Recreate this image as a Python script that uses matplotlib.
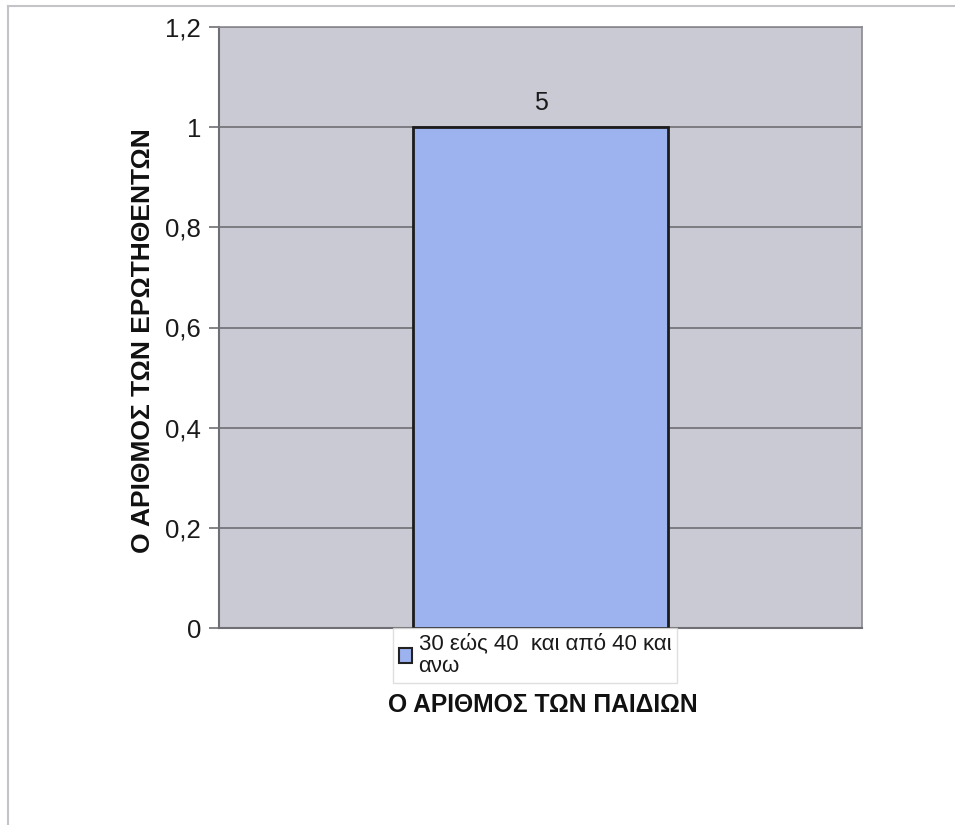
import matplotlib
matplotlib.use("Agg")
import matplotlib.pyplot as plt
from matplotlib.lines import Line2D
from matplotlib.patches import Rectangle

categories = [""]
values = [1]
bar_labels = ["5"]
series_name = "30 εώς 40  και από 40 και\nανω"
y_ticks = [0, 0.2, 0.4, 0.6, 0.8, 1.0, 1.2]
y_tick_labels = ["0", "0,2", "0,4", "0,6", "0,8", "1", "1,2"]
y_title = "Ο ΑΡΙΘΜΟΣ ΤΩΝ ΕΡΩΤΗΘΕΝΤΩΝ"
x_title = "Ο ΑΡΙΘΜΟΣ ΤΩΝ ΠΑΙΔΙΩΝ"

plt.rcParams['font.family'] = ['Liberation Sans', 'DejaVu Sans']

fig = plt.figure(figsize=(9.55, 8.25), dpi=100)
fig.patch.set_facecolor("white")

# scan frame lines
fig.add_artist(Line2D([8/955, 1.0], [1-6/825, 1-6/825], color="#c4c4c8", lw=1.5))
fig.add_artist(Line2D([8/955, 8/955], [0.0, 1-6/825], color="#c4c4c8", lw=1.5))

ax = fig.add_axes([219/955, 1-628/825, 643/955, 601/825])
ax.set_facecolor("#c9cad3")
ax.set_xlim(-0.5, 0.5)
ax.set_ylim(0, 1.2)
ax.set_yticks(y_ticks)
ax.set_yticklabels(y_tick_labels, fontsize=18.5)
ax.set_xticks([])
ax.yaxis.grid(True, color="#6e6e74", lw=1.2)
ax.set_axisbelow(True)
for s in ["top", "right"]:
    ax.spines[s].set_color("#8a8a90")
    ax.spines[s].set_linewidth(1.2)
ax.spines["left"].set_color("#6e6e74")
ax.spines["left"].set_linewidth(1.5)
ax.spines["bottom"].set_color("#6e6e74")
ax.spines["bottom"].set_linewidth(1.5)
ax.tick_params(axis="y", length=7, width=1.2, color="#6e6e74", pad=6, labelcolor="#1a1a1a")

bars = ax.bar(range(len(values)), values, width=0.398, color="#9db3ef",
              edgecolor="#1c1c1c", linewidth=2, label=series_name, zorder=3)
for b, t in zip(bars, bar_labels):
    ax.text(b.get_x() + b.get_width()/2, b.get_height() + 0.024, t,
            ha="center", va="bottom", fontsize=18, color="#1a1a1a")

fig.text(143/955, 1-341/825, y_title, rotation=90, ha="center", va="center",
         fontsize=19, fontweight="bold", color="#111111")

leg = fig.legend(handles=[Rectangle((0, 0), 1, 1, facecolor="#9db3ef", edgecolor="#222222", lw=1.5)],
                 labels=[series_name], loc="upper left",
                 bbox_to_anchor=(393/955, 1-628/825), fontsize=16, frameon=True,
                 fancybox=False, handlelength=0.6, handleheight=0.6, handletextpad=0.3,
                 borderpad=0.25, borderaxespad=0)
leg.get_frame().set_edgecolor("#d8d8d8")
leg.get_frame().set_linewidth(1)
for t in leg.get_texts():
    t.set_color("#1a1a1a")
    t.set_linespacing(1.1)

fig.text(543/955, 1-705/825, x_title, ha="center", va="center",
         fontsize=17.7, fontweight="bold", color="#111111")

fig.savefig("out.png", dpi=100, facecolor="white")
